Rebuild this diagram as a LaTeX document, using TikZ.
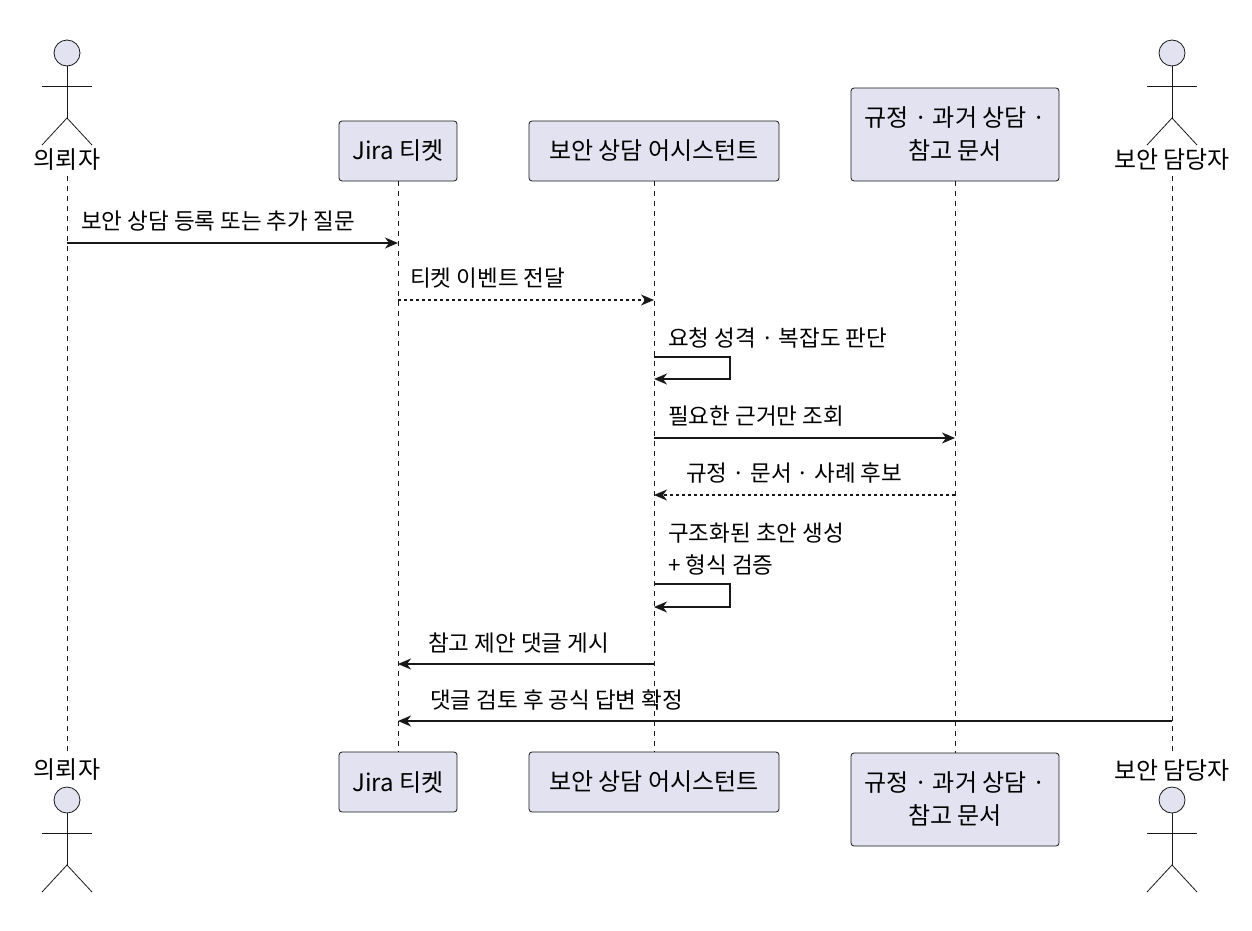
\documentclass[tikz,border=0pt]{standalone}
\usepackage{fontspec}
\setmainfont{Noto Sans CJK KR}
\usetikzlibrary{arrows.meta}
\definecolor{partfill}{HTML}{E2E2F0}
\definecolor{partline}{HTML}{181818}
\begin{document}
\begin{tikzpicture}[x=1pt, y=-1pt,
    part/.style={draw=partline, fill=partfill, rounded corners=3pt, line width=0.8pt, font=\fontsize{24}{33}\selectfont, align=center, inner sep=0pt},
    actlabel/.style={font=\fontsize{24}{30}\selectfont, inner sep=0pt},
    life/.style={partline, line width=0.6pt, dash pattern=on 5pt off 5pt},
    msg/.style={partline, line width=1.3pt, -{Stealth[length=13pt, width=11pt, inset=4pt]}},
    reply/.style={msg, dash pattern=on 3pt off 3pt},
    mlabel/.style={font=\fontsize{22.5}{30}\selectfont, anchor=base west, inner sep=0pt}]
    \useasboundingbox (0,0) rectangle (1252,930);

    % actors
    \newcommand{\actor}[2]{%
      \draw[partline, fill=partfill, line width=0.8pt] (#1,#2) circle (13);
      \draw[partline, line width=0.8pt] (#1,#2+13) -- (#1,#2+65);
      \draw[partline, line width=0.8pt] (#1-25,#2+33) -- (#1+25,#2+33);
      \draw[partline, line width=0.8pt] (#1-25,#2+92) -- (#1,#2+65) -- (#1+25,#2+92);}
    \actor{67}{53}
    \actor{67}{800}
    \actor{1172}{53}
    \actor{1172}{800}

    \node[actlabel] (req) at (67,160) {의뢰자};
    \node[actlabel] (reqb) at (67,770) {의뢰자};
    \node[actlabel] (sec) at (1172,160) {보안 담당자};
    \node[actlabel] (secb) at (1172,770) {보안 담당자};

    % participants
    \node[part, minimum width=118pt, minimum height=60pt] (jira) at (398,151) {Jira 티켓};
    \node[part, minimum width=118pt, minimum height=60pt] (jirab) at (398,782) {Jira 티켓};
    \node[part, minimum width=250pt, minimum height=60pt] (asst) at (654,151) {보안 상담 어시스턴트};
    \node[part, minimum width=250pt, minimum height=60pt] (asstb) at (654,782) {보안 상담 어시스턴트};
    \node[part, minimum width=208pt, minimum height=93pt] (docs) at (955,134.5) {규정 · 과거 상담 ·\\참고 문서};
    \node[part, minimum width=208pt, minimum height=93pt] (docsb) at (955,799.5) {규정 · 과거 상담 ·\\참고 문서};

    % lifelines
    \coordinate (reqt) at (67,176);   \coordinate (reqbt) at (67,755);
    \coordinate (sect) at (1172,176); \coordinate (secbt) at (1172,755);
    \draw[life] (reqt) -- (reqbt);
    \draw[life] (jira) -- (jirab);
    \draw[life] (asst) -- (asstb);
    \draw[life] (docs) -- (docsb);
    \draw[life] (sect) -- (secbt);

    % messages
    \coordinate (m1a) at (67,243);   \coordinate (m1b) at (398,243);
    \coordinate (m2a) at (398,300);  \coordinate (m2b) at (654,300);
    \coordinate (m3a) at (654,357);  \coordinate (m3b) at (654,379);
    \coordinate (m4a) at (654,438);  \coordinate (m4b) at (955,438);
    \coordinate (m5a) at (955,495);  \coordinate (m5b) at (654,495);
    \coordinate (m6a) at (654,584);  \coordinate (m6b) at (654,607);
    \coordinate (m7a) at (654,664);  \coordinate (m7b) at (398,664);
    \coordinate (m8a) at (1172,721); \coordinate (m8b) at (398,721);

    \draw[msg] (m1a) -- (m1b);
    \node[mlabel] (l1) at (81,229) {보안 상담 등록 또는 추가 질문};
    \draw[reply] (m2a) -- (m2b);
    \node[mlabel] (l2) at (410,286) {티켓 이벤트 전달};
    \draw[msg] (m3a) -- ++(76,0) |- (m3b);
    \node[mlabel] (l3) at (668,346) {요청 성격 · 복잡도 판단};
    \draw[msg] (m4a) -- (m4b);
    \node[mlabel] (l4) at (668,424) {필요한 근거만 조회};
    \draw[reply] (m5a) -- (m5b);
    \node[mlabel] (l5) at (686,481) {규정 · 문서 · 사례 후보};
    \draw[msg] (m6a) -- ++(76,0) |- (m6b);
    \node[mlabel] (l6) at (668,541) {구조화된 초안 생성};
    \node[mlabel] (l6b) at (668,573) {+ 형식 검증};
    \draw[msg] (m7a) -- (m7b);
    \node[mlabel] (l7) at (428,651) {참고 제안 댓글 게시};
    \draw[msg] (m8a) -- (m8b);
    \node[mlabel] (l8) at (430,708) {댓글 검토 후 공식 답변 확정};
\end{tikzpicture}
\end{document}
